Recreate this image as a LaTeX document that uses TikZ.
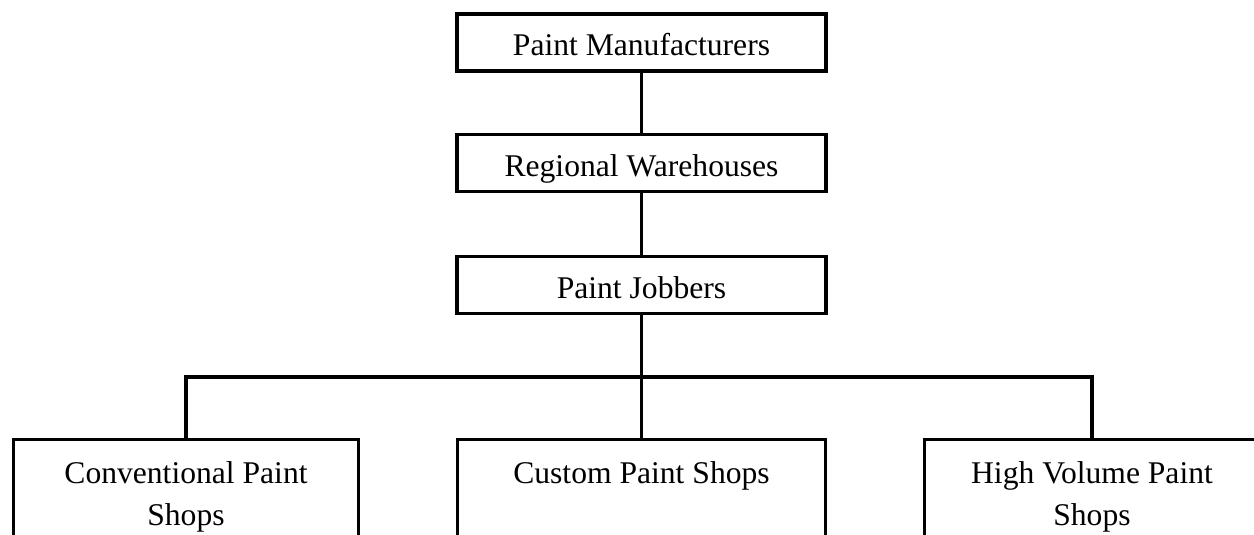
\documentclass[tikz,border=0pt]{standalone}
\usepackage{fontspec}
\setmainfont{Liberation Serif}
\begin{document}
\begin{tikzpicture}[x=1pt,y=-1pt,
  box/.style={draw=black, line width=3.2pt, minimum width=369pt, minimum height=57pt, inner sep=0pt,
              text height=27pt, text depth=1pt, font=\fontsize{31.6}{42}\selectfont},
  tallbox/.style={draw=black, line width=3.2pt, minimum width=345pt, minimum height=160pt, inner sep=0pt, anchor=north},
  lbl/.style={inner sep=0pt, anchor=north, align=center, font=\fontsize{31.6}{42}\selectfont},
  conn/.style={draw=black, line width=3.2pt}]
\useasboundingbox (0,0) rectangle (1254,535);
\node[box] (pm) at (641.5,42.5) {Paint Manufacturers};
\node[box] (rw) at (641.5,163) {Regional Warehouses};
\node[box] (pj) at (641.5,285) {Paint Jobbers};
\node[tallbox] (cv) at (186,438) {};
\node[tallbox, minimum width=368pt] (cu) at (641.5,438) {};
\node[tallbox] (hv) at (1097,438) {};
\node[lbl] (cvt) at (186,461) {Conventional Paint\\Shops};
\node[lbl] (cut) at (641.5,461) {Custom Paint Shops};
\node[lbl] (hvt) at (1092,461) {High Volume Paint\\Shops};
\coordinate (jm) at (641.5,377);
\coordinate (jl) at (186,377);
\coordinate (jr) at (1092,377);
\draw[conn] (pm.south) -- (rw.north);
\draw[conn] (rw.south) -- (pj.north);
\draw[conn] (pj.south) -- (jm) -- (cu.north);
\draw[conn] (cv.north -| jl) -- (jl) -- (jr) -- (hv.north -| jr);
\end{tikzpicture}
\end{document}
